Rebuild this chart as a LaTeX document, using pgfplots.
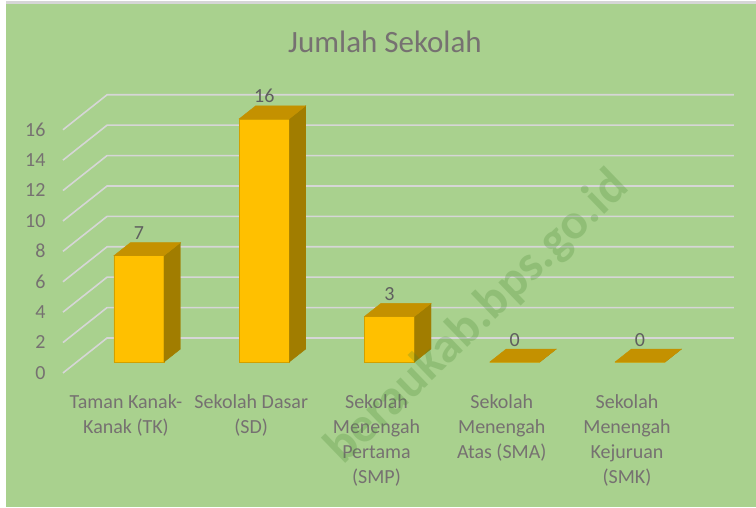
\documentclass[border=0pt]{standalone}
\usepackage{fontspec}
\setmainfont{Carlito}
\usepackage{pgfplots}
\usepackage{pgfplotstable}
\pgfplotsset{compat=1.18}
\definecolor{bgc}{RGB}{169,209,142}
\definecolor{frontc}{RGB}{255,192,0}
\definecolor{topc}{RGB}{196,145,0}
\definecolor{sidec}{RGB}{161,125,0}
\definecolor{edgec}{RGB}{210,160,0}
\definecolor{gridc}{RGB}{214,214,214}
\definecolor{txtc}{RGB}{118,113,113}
\definecolor{labc}{RGB}{95,95,95}
\definecolor{wmc}{RGB}{70,135,50}
\pgfdeclareplotmark{nothing3d}{}
\pgfplotstableread{
x v
0 7
1 16
2 3
3 0
4 0
}\sekolah
\begin{document}
\begin{tikzpicture}
% page background
\fill[white] (-139pt,-145pt) rectangle (617pt,362pt);
\fill[gridc] (-133pt,358pt) rectangle (617pt,360.5pt);
\fill[bgc] (-133pt,-145pt) rectangle (617pt,358pt);
\begin{axis}[
  at={(0pt,0pt)}, anchor=origin,
  x=125.25pt, y=15.2pt,
  xmin=-0.745, xmax=4.9,
  ymin=-2.105, ymax=18,
  clip=false,
  axis line style={draw=none},
  tick style={draw=none},
  xtick={0,1,2,3,4},
  xticklabels={{Taman Kanak-\\Kanak (TK)},{Sekolah Dasar\\(SD)},{Sekolah\\Menengah\\Pertama\\(SMP)},{Sekolah\\Menengah\\Atas (SMA)},{Sekolah\\Menengah\\Kejuruan\\(SMK)}},
  xticklabel style={anchor=north, inner sep=0pt, xshift=-13pt, align=center,
    font=\fontsize{20pt}{25pt}\selectfont, text=txtc},
  ytick={0,2,4,6,8,10,12,14,16},
  yticklabel style={anchor=east, inner sep=0pt, yshift=-10.7pt,
    font=\fontsize{20pt}{24pt}\selectfont, text=txtc},
  /pgf/number format/assume math mode=true,
]
% 3D gridlines (left wall diagonal + back wall)
\addplot[gridc, line width=1.6pt] coordinates {(-0.607,-0.72) (-0.255,1.58) (4.75,1.58)};
\addplot[gridc, line width=1.6pt] coordinates {(-0.607,1.28) (-0.255,3.58) (4.75,3.58)};
\addplot[gridc, line width=1.6pt] coordinates {(-0.607,3.28) (-0.255,5.58) (4.75,5.58)};
\addplot[gridc, line width=1.6pt] coordinates {(-0.607,5.28) (-0.255,7.58) (4.75,7.58)};
\addplot[gridc, line width=1.6pt] coordinates {(-0.607,7.28) (-0.255,9.58) (4.75,9.58)};
\addplot[gridc, line width=1.6pt] coordinates {(-0.607,9.28) (-0.255,11.58) (4.75,11.58)};
\addplot[gridc, line width=1.6pt] coordinates {(-0.607,11.28) (-0.255,13.58) (4.75,13.58)};
\addplot[gridc, line width=1.6pt] coordinates {(-0.607,13.28) (-0.255,15.58) (4.75,15.58)};
\addplot[gridc, line width=1.6pt] coordinates {(-0.607,15.28) (-0.255,17.58) (4.75,17.58)};
% front faces
\addplot[ybar, bar width=50pt, bar shift=0pt, fill=frontc, draw=edgec, line width=0.5pt,
  nodes near coords,
  nodes near coords style={anchor=south, inner sep=0pt, yshift=15.5pt,
    font=\fontsize{20pt}{24pt}\selectfont, text=labc}]
  table[x=x, y=v] {\sekolah};
% side and top faces
\addplot[scatter, only marks, mark=nothing3d,
  visualization depends on={\thisrow{v}*15.2 \as \barH},
  scatter/@pre marker code/.code={%
    \fill[sidec] (25pt,0pt) -- (41.5pt,13pt) -- ({41.5pt},{13pt-\barH*1pt}) -- ({25pt},{-\barH*1pt}) -- cycle;
    \fill[topc] (-25pt,0pt) -- (25pt,0pt) -- (41.5pt,13pt) -- (-8.5pt,13pt) -- cycle;
  },
  scatter/@post marker code/.code={},
] table[x=x, y=v] {\sekolah};
\end{axis}
\node[anchor=base, font=\fontsize{31pt}{36pt}\selectfont, text=txtc] at (246pt,309.3pt) {Jumlah Sekolah};
\node[rotate=44, font=\bfseries\fontsize{50pt}{60pt}\selectfont, text=wmc, opacity=0.25] at (339pt,44pt) {beraukab.bps.go.id};
\pgfresetboundingbox
\path (-139pt,-145pt) rectangle (617pt,362pt);
\end{tikzpicture}
\end{document}
